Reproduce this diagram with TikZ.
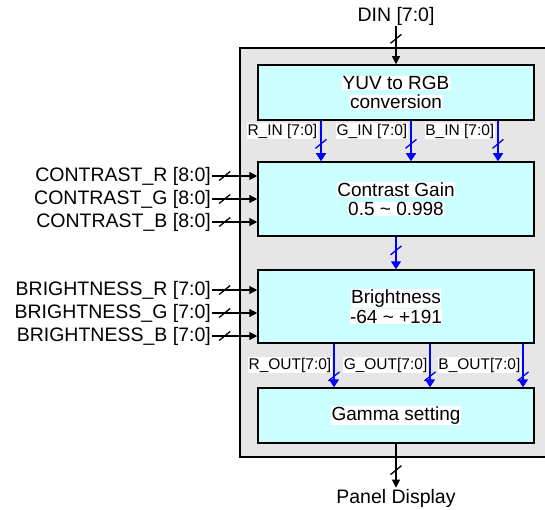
\documentclass[tikz,border=0pt]{standalone}
\usepackage{fontspec}
\setmainfont{Liberation Sans}
\usetikzlibrary{arrows.meta, positioning, calc}
\definecolor{chipgray}{RGB}{230,230,230}
\definecolor{blocksky}{RGB}{204,255,255}
\definecolor{busblue}{RGB}{0,0,255}
\newcommand{\hl}[1]{{\setlength{\fboxsep}{0.5pt}\colorbox{white}{#1}}}

\begin{document}
\begin{tikzpicture}[x=1pt, y=-1pt,
  chip/.style={rectangle, draw=black, fill=chipgray, line width=1.5pt, minimum width=312pt, minimum height=409pt},
  block/.style={rectangle, draw=black, fill=blocksky, line width=1.5pt, minimum width=276pt, align=center, font=\fontsize{19}{19.5}\selectfont},
  sig/.style={font=\fontsize{19.5}{22}\selectfont, inner sep=1pt},
  bus/.style={font=\fontsize{15.5}{18}\selectfont, inner sep=0.5pt, fill=white},
  arr/.style={-{Triangle[length=8pt, width=8pt]}, line width=1.1pt},
  barr/.style={-{Triangle[length=8pt, width=10pt]}, line width=1.6pt, draw=busblue},
  slash/.pic={\draw[-, line width=1.3pt] (-5.5,4.5) -- (5.5,-4.5);}
]
\clip (0,0) rectangle (545,510);
\node[chip] (chip) at (396,252.5) {};
\node[block, minimum height=55pt] (yuv) at (396,92.5) {\hl{YUV to RGB}\\\hl{conversion}};
\node[block, minimum height=74pt] (con) at (396,199) {\hl{Contrast Gain}\\\hl{0.5 \textasciitilde{} 0.998}};
\node[block, minimum height=73pt] (bri) at (396,306.5) {\hl{Brightness}\\\hl{-64 \textasciitilde{} +191}};
\node[block, minimum height=55pt] (gam) at (396,415.5) {\hl{Gamma setting}};

\node[sig] (din) at (396,16) {DIN [7:0]};
\node[sig] (panel) at (396,498) {Panel Display};
\draw[arr] (din) -- pic[pos=0.33]{slash} (yuv);
\draw[arr] (gam) -- pic[pos=0.6]{slash} (panel);

\node[sig, anchor=east] (cr) at (212,176) {CONTRAST\_R [8:0]};
\node[sig, anchor=east] (cg) at (212,199) {CONTRAST\_G [8:0]};
\node[sig, anchor=east] (cb) at (212,222) {CONTRAST\_B [8:0]};
\node[sig, anchor=east] (br) at (212,290) {BRIGHTNESS\_R [7:0]};
\node[sig, anchor=east] (bg) at (212,313) {BRIGHTNESS\_G [7:0]};
\node[sig, anchor=east] (bb) at (212,336) {BRIGHTNESS\_B [7:0]};
\foreach \s/\t in {cr/con, cg/con, cb/con, br/bri, bg/bri, bb/bri}
  \draw[arr] (\s) -- pic[pos=0.28]{slash} (\t.west |- \s);

\node[bus, anchor=east] (rin) at (318,131) {R\_IN [7:0]};
\node[bus, anchor=east] (gin) at (408,131) {G\_IN [7:0]};
\node[bus, anchor=east] (bin) at (495,131) {B\_IN [7:0]};
\foreach \dx in {-75,15,102}
  \draw[barr] ([xshift=\dx pt]yuv.south) -- pic[pos=0.57]{slash} ([xshift=\dx pt]con.north);
\draw[barr] (con) -- pic[pos=0.42]{slash} (bri);

\node[bus, anchor=east] (rout) at (332,365) {R\_OUT[7:0]};
\node[bus, anchor=east] (gout) at (428,365) {G\_OUT[7:0]};
\node[bus, anchor=east] (bout) at (521,365) {B\_OUT[7:0]};
\foreach \dx in {-62,34,127}
  \draw[barr] ([xshift=\dx pt]bri.south) -- pic[pos=0.75]{slash} ([xshift=\dx pt]gam.north);
\end{tikzpicture}
\end{document}
